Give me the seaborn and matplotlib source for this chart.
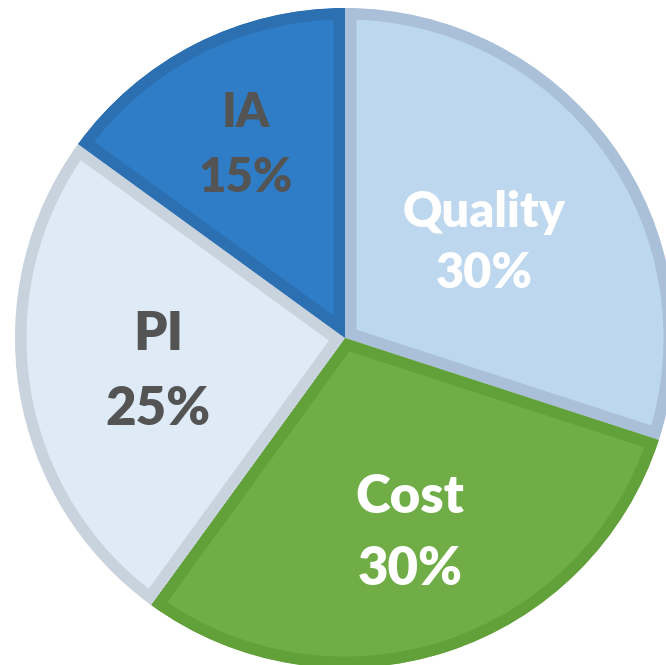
import matplotlib
matplotlib.use("Agg")
import matplotlib.pyplot as plt
import seaborn as sns

categories = ["Quality", "Cost", "PI", "IA"]
shares = [30, 30, 25, 15]
fill_colors = ["#BDD7EE", "#70AD47", "#DEEBF7", "#2E7DC6"]
edge_colors = ["#A9C0D8", "#62A03A", "#C9D3DD", "#2C70B2"]
text_colors = ["white", "white", "#545454", "#545454"]
# label placement in pixels: x centre, baseline of first line, baseline of second line
label_px = [(484, 227, 288), (410, 513, 585), (158, 350, 425), (246, 127, 192)]
label_size = [35, 38, 38, 34]

sns.set_theme(style="white")
plt.rcParams['font.family'] = ['Lato', 'DejaVu Sans']

W, H = 666, 665
cx, cy, R = 345, 338, 330
fig = plt.figure(figsize=(W / 100, H / 100), dpi=100)
ax = fig.add_axes([0, 0, 1, 1])

wedges, _ = ax.pie(shares, colors=fill_colors, startangle=90, counterclock=False,
                   radius=1.0, wedgeprops=dict(linewidth=16.5, joinstyle="miter"))
for w, ec in zip(wedges, edge_colors):
    w.set_edgecolor(ec)
    w.set_clip_on(True)
    w.set_clip_path(w)
ax.set_xlim(-cx / R, (W - cx) / R)
ax.set_ylim(-(H - cy) / R, cy / R)
ax.set_aspect("equal")
ax.axis("off")

for cat, val, (px, b1, b2), tc, fs in zip(categories, shares, label_px, text_colors, label_size):
    x = (px - cx) / R
    for txt, b in ((cat, b1), (f"{val}%", b2)):
        ax.text(x, (cy - b) / R, txt, ha="center", va="baseline", color=tc,
                fontsize=fs, fontweight="heavy")

fig.savefig("out.png", dpi=100)
